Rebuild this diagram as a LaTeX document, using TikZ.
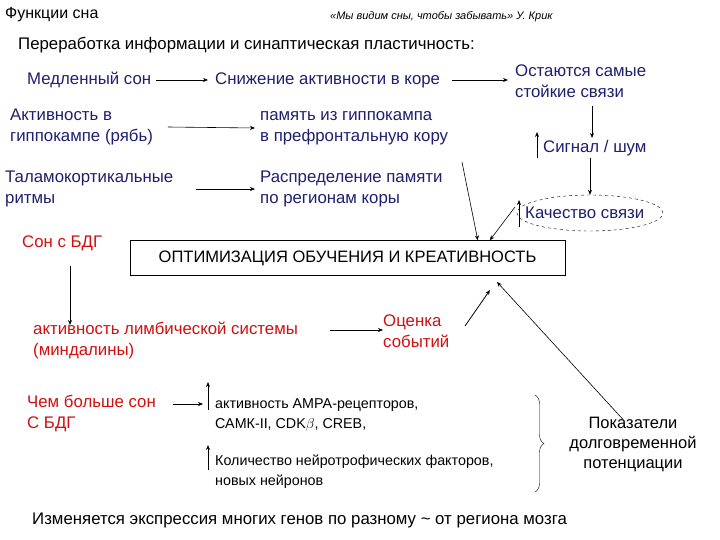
\documentclass[tikz,border=0pt]{standalone}
\usepackage{fontspec}
\setmainfont{Liberation Sans}
\usetikzlibrary{shapes.geometric,decorations.pathreplacing,arrows.meta}
\definecolor{navy}{HTML}{1F1F70}
\definecolor{rd}{HTML}{D01010}
\begin{document}
\begin{tikzpicture}[x=1pt,y=-1pt,
  t/.style={anchor=west,inner sep=0pt,align=left,font=\fontsize{16.8}{21}\selectfont},
  nv/.style={t,text=navy},
  rr/.style={t,text=rd},
  sm/.style={anchor=west,inner sep=0pt,align=left,font=\fontsize{14.3}{20}\selectfont},
  ar/.style={-{Stealth[length=5pt,width=4pt]},thick},
  art/.style={-{Stealth[length=5pt,width=4pt]},semithick}]
\useasboundingbox (0,0) rectangle (720,540);
\fill[white] (0,0) rectangle (720,540);
\node[t,font=\fontsize{16}{18}\selectfont] (title) at (5,15) {Функции сна};
\node[t,font=\itshape\fontsize{11}{13}\selectfont] (crick) at (330,17) {«Мы видим сны, чтобы забывать» У. Крик};
\node[t] (head) at (18,45) {Переработка информации и синаптическая пластичность:};
\node[nv] (slow) at (27,80) {Медленный сон};
\node[nv] (low) at (215,80) {Снижение активности в коре};
\node[nv] (stay) at (515,81) {Остаются самые\\стойкие связи};
\node[nv] (hip) at (10,127) {Активность в\\гиппокампе (рябь)};
\node[nv] (mem) at (260,128) {память из гиппокампа\\в префронтальную кору};
\node[nv] (thal) at (5,189) {Таламокортикальные\\ритмы};
\node[nv] (dist) at (260,189) {Распределение памяти\\по регионам коры};
\node[nv] (sig) at (543,148) {Сигнал / шум};
\node[draw,dashed,ellipse,minimum width=146pt,minimum height=36pt,inner sep=0pt] (ell) at (590,213) {};
\node[nv] (qual) at (525,213) {Качество связи};
\node[draw,minimum width=435pt,minimum height=35pt,inner sep=0pt,font=\fontsize{16.5}{18}\selectfont] (box) at (347.5,258) {ОПТИМИЗАЦИЯ ОБУЧЕНИЯ И КРЕАТИВНОСТЬ};
\node[rr] (rem) at (22,243) {Сон с БДГ};
\node[rr] (limb) at (33,341) {активность лимбической системы\\(миндалины)};
\node[rr] (ev) at (383,331) {Оценка\\событий};
\node[rr] (more) at (27,414) {Чем больше сон\\С БДГ};
\node[sm] (ampa) at (215,415) {активность АМРА-рецепторов,\\САМК-II, CDK$\beta$, CREB,};
\node[sm] (neur) at (215,472) {Количество нейротрофических факторов,\\новых нейронов};
\node[anchor=center,inner sep=0pt,align=center,font=\fontsize{16.5}{20}\selectfont] (ltp) at (633,444) {Показатели\\долговременной\\потенциации};
\node[t] (bot) at (32,520) {Изменяется экспрессия многих генов по разному \textasciitilde{} от региона мозга};
% arrows
\draw[ar] ([xshift=5pt]slow.east) -- ([xshift=-7pt]low.west);
\draw[ar] ([xshift=12pt]low.east) -- ([xshift=-7pt]stay.west |- low.east);
\draw[art] ([xshift=15pt]hip.east) -- ([xshift=-5pt]mem.west);
\draw[art] ([xshift=22pt]thal.east) -- ([xshift=-5pt]dist.west);
\draw[ar] (592,106) -- (592,138);
\draw[ar] (537,158) -- (537,132);
\draw[art] (590,158) -- (ell.north);
\draw[art] (519,227) -- (519,200);
\draw[art] (462,162) -- ([xshift=348pt]box.north west);
\draw[art] (515,207) -- ([xshift=360pt]box.north west);
\draw[ar] (70,266) -- (70,325);
\draw[art] (330,330) -- (ev.west |- 330,330);
\draw[ar] (465,326) -- (490,290);
\draw[art] ([xshift=-10pt,yshift=-3pt]ltp.north) -- (497,282);
\draw[art] (173,404) -- (203,404);
\draw[ar] (208,410) -- (208,382);
\draw[ar] (208,470) -- (208,445);
\draw[decorate,decoration={brace,amplitude=9pt}] (535,395) -- (535,492);
\end{tikzpicture}
\end{document}
